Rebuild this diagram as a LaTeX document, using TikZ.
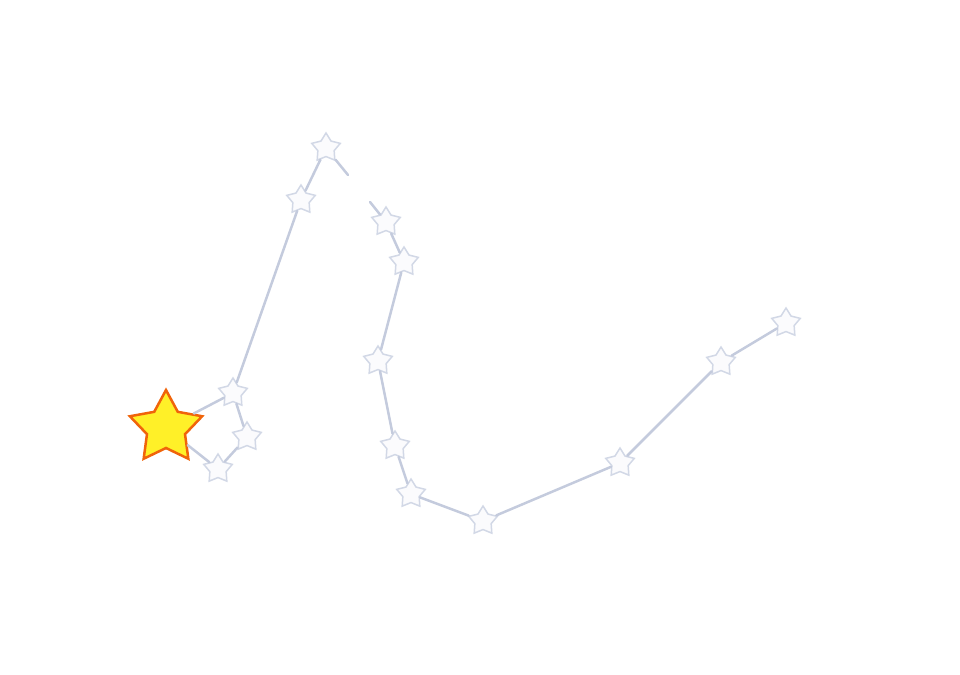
\documentclass[tikz,border=0pt]{standalone}
\usepackage{tikz}
\usetikzlibrary{shapes.geometric}
\definecolor{linkgray}{RGB}{196,203,221}
\definecolor{rimgray}{RGB}{210,216,230}
\definecolor{starfill}{RGB}{251,251,253}
\definecolor{bigfill}{RGB}{255,240,40}
\definecolor{bigrim}{RGB}{240,100,10}
\tikzset{
  smallstar/.style={star, star points=5, star point ratio=1.75, inner sep=0pt,
    minimum size=30pt, draw=rimgray, fill=starfill, line width=1.5pt},
  bigstar/.style={star, star points=5, star point ratio=1.9, inner sep=0pt,
    minimum size=76pt, draw=bigrim, fill=bigfill, line width=2.5pt},
  link/.style={draw=linkgray, line width=2.5pt, line cap=round}
}
\begin{document}
\begin{tikzpicture}[x=1pt,y=-1pt]
\useasboundingbox (0,0) rectangle (960,674);
%%% the highlighted star
\node[bigstar] (s0) at (166,428) {};
%%% the little loop next to it
\node[smallstar] (a1) at (233,393) {};
\node[smallstar] (a2) at (247,437) {};
\node[smallstar] (a3) at (218,469) {};
%%% the left arm going up
\node[smallstar] (b1) at (301,200) {};
\node[smallstar] (b2) at (326,148) {};
\coordinate (g1) at (348,175);
\coordinate (g2) at (370,202);
%%% the long tail
\node[smallstar] (c1) at (386,222) {};
\node[smallstar] (c2) at (404,262) {};
\node[smallstar] (c3) at (378,361) {};
\node[smallstar] (c4) at (395,446) {};
\node[smallstar] (c5) at (411,494) {};
\node[smallstar] (c6) at (483,521) {};
\node[smallstar] (c7) at (620,463) {};
\node[smallstar] (c8) at (721,362) {};
\node[smallstar] (c9) at (786,323) {};
%%% the edges
\draw[link] (s0) -- (a1);
\draw[link] (a1) -- (a2);
\draw[link] (a2) -- (a3);
\draw[link] (a3) -- (s0);
\draw[link] (a1) -- (b1);
\draw[link] (b1) -- (b2);
\draw[link] (b2) -- (g1);
% the gap in the line
\draw[link] (g2) -- (c1);
\draw[link] (c1) -- (c2);
\draw[link] (c2) -- (c3);
\draw[link] (c3) -- (c4);
\draw[link] (c4) -- (c5);
\draw[link] (c5) -- (c6);
\draw[link] (c6) -- (c7);
\draw[link] (c7) -- (c8);
\draw[link] (c8) -- (c9);
\end{tikzpicture}
\end{document}
